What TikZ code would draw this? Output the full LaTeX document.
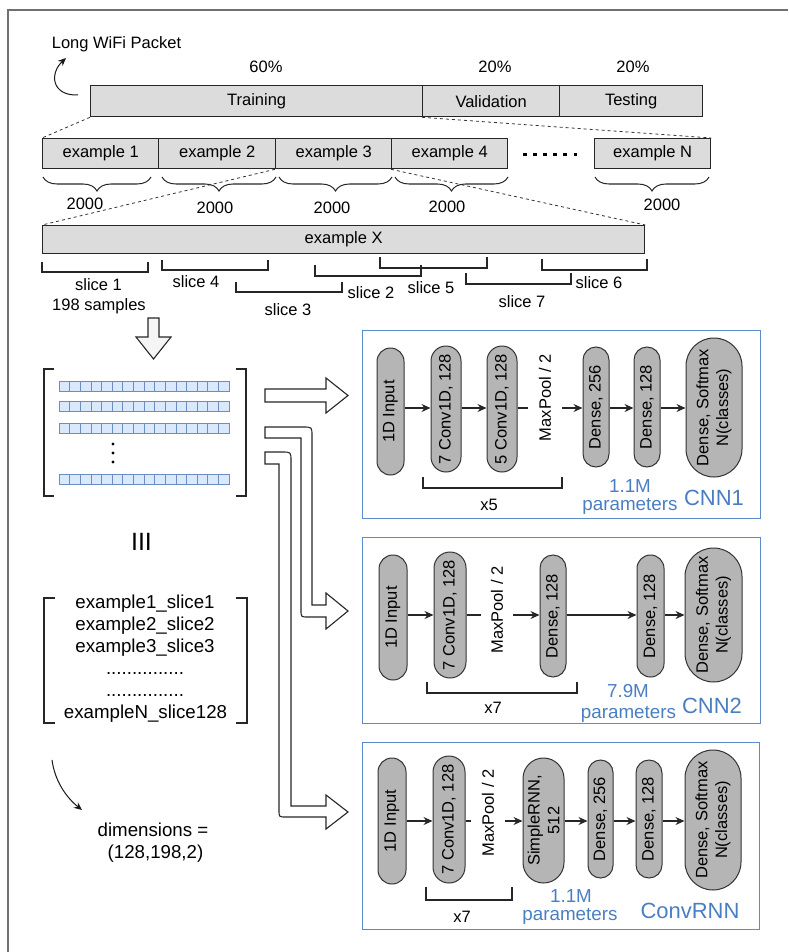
\documentclass[tikz,border=0pt]{standalone}
\usepackage{fontspec}
\setmainfont{Liberation Sans}
\usetikzlibrary{arrows.meta,decorations.pathreplacing}
\definecolor{boxgray}{HTML}{DCDCDC}
\definecolor{pillgray}{HTML}{B5B5B5}
\definecolor{cellblue}{HTML}{DAE8FC}
\definecolor{cellline}{HTML}{6C8EBF}
\definecolor{netblue}{HTML}{5B8BCB}
\definecolor{labblue}{HTML}{4A7EC2}
\definecolor{framegray}{HTML}{707070}
\begin{document}
\begin{tikzpicture}[x=1pt,y=-1pt,
  basefont/.style={font=\fontsize{16.5}{19.8}\selectfont},
  txt/.style={basefont, inner sep=0pt, anchor=base},
  lst/.style={font=\fontsize{18.7}{22}\selectfont, inner sep=0pt, anchor=base},
  bl/.style={font=\fontsize{18.8}{22}\selectfont, text=labblue, inner sep=0pt, anchor=base},
  bigbl/.style={font=\fontsize{22}{26}\selectfont, text=labblue, inner sep=0pt, anchor=base},
  seg/.style={draw=black!85, line width=1.3pt, fill=boxgray, basefont, inner sep=0pt, anchor=north west},
  pill/.style n args={3}{draw=black!80, line width=1pt, fill=pillgray, rotate=90, inner sep=0pt,
     align=center, basefont, minimum width=#1, minimum height=#2, rounded corners=#3},
  mpn/.style={rotate=90, inner sep=0pt, basefont, minimum height=#1},
  netbox/.style={draw=netblue, line width=1.3pt, inner sep=0pt, anchor=north west},
  arr/.style={-{Stealth[length=9pt,width=8pt]}, line width=1.2pt, black!85},
  ln/.style={line width=1.2pt, black!85},
  carr/.style={-{Stealth[length=8pt,width=7pt]}, line width=1pt, black!90},
  dsh/.style={black!80, line width=0.8pt, dash pattern=on 3pt off 3pt},
  brc/.style={decorate, decoration={brace,mirror,amplitude=14pt}, line width=1pt, black!85},
  sl/.style={line width=1.1pt, black!85},
  blk/.style={draw=black!85, line width=1.1pt, fill=white, line join=miter},
  cell/.style={fill=cellblue, draw=cellline, line width=0.7pt}
]
\useasboundingbox (0,0) rectangle (788,952);
% frame
\draw[framegray, line width=1.2pt] (8,952) -- (8,10) -- (788,10);

% top packet
\node[txt] (lwp) at (116.5,48.5) {Long WiFi Packet};
\coordinate (lwpstart) at (78,95);
\coordinate (lwpend) at (66,58);
\draw[carr] (lwpstart) .. controls (52,96) and (49,74) .. (lwpend);
\node[txt] (pct1) at (266,73) {60\%};
\node[txt] (pct2) at (495,73) {20\%};
\node[txt] (pct3) at (633,73) {20\%};
\node[seg, minimum width=332pt, minimum height=31pt] (tr) at (90,85) {Training};
\node[seg, minimum width=137pt, minimum height=31pt] (va) at (422,85) {Validation};
\node[seg, minimum width=143pt, minimum height=31pt] (te) at (559,85) {Testing};

% examples
\node[seg, minimum width=116pt, minimum height=30pt] (e1) at (42,138) {example 1};
\node[seg, minimum width=117pt, minimum height=30pt] (e2) at (158,138) {example 2};
\node[seg, minimum width=116pt, minimum height=30pt] (e3) at (275,138) {example 3};
\node[seg, minimum width=116pt, minimum height=30pt] (e4) at (391,138) {example 4};
\node[seg, minimum width=116pt, minimum height=30pt] (eN) at (594,138) {example N};
\coordinate (dotsA) at (523,154.5);
\coordinate (dotsB) at (578,154.5);
\draw[line width=3.6pt, dash pattern=on 3.6pt off 6.5pt] (dotsA) -- (dotsB);
\draw[dsh] (tr.south west) -- (e1.north west);
\draw[dsh] (va.south west) -- (eN.north east);

% braces
\draw[brc] (43,177) -- (151,177);
\draw[brc] (162,177) -- (276,177);
\draw[brc] (279,177) -- (392,177);
\draw[brc] (395,177) -- (508,177);
\draw[brc] (595,177) -- (709,177);
\node[txt] (n1) at (85,209) {2000};
\node[txt] (n2) at (215,213) {2000};
\node[txt] (n3) at (332,213) {2000};
\node[txt] (n4) at (447,212) {2000};
\node[txt] (nN) at (662,210) {2000};

% example X
\node[seg, minimum width=602pt, minimum height=28pt] (eX) at (42,225) {example X};
\draw[dsh] (e3.south west) -- (eX.north west);
\draw[dsh] (e4.south west) -- (eX.north east);

% slices
\draw[sl] (42,262) -- (42,272) -- (148,272) -- (148,262);
\draw[sl] (162,260) -- (162,270) -- (268,270) -- (268,260);
\draw[sl] (236,282) -- (236,292) -- (342,292) -- (342,282);
\draw[sl] (315,265) -- (315,276) -- (421,276) -- (421,265);
\draw[sl] (380,257) -- (380,268) -- (487,268) -- (487,257);
\draw[sl] (466,273) -- (466,284) -- (571,284) -- (571,273);
\draw[sl] (542,259) -- (542,270) -- (647,270) -- (647,259);
\node[txt] (s1) at (98.5,290) {slice 1};
\node[txt] (s1b) at (99,310) {198 samples};
\node[txt] (s4) at (196,287) {slice 4};
\node[txt] (s3) at (288,315) {slice 3};
\node[txt] (s2) at (371,298) {slice 2};
\node[txt] (s5) at (431,293) {slice 5};
\node[txt] (s7) at (522,307) {slice 7};
\node[txt] (s6) at (599,288) {slice 6};

% down arrow
\draw[blk, fill={rgb,255:red,245;green,245;blue,245}] (148,318) -- (159,318) -- (159,337) -- (171,337) -- (153.5,359) -- (136,337) -- (148,337) -- cycle;

% matrix
\draw[sl] (54,369) -- (44,369) -- (44,496) -- (54,496);
\draw[sl] (236,369) -- (246,369) -- (246,496) -- (236,496);
\foreach \r in {381,401,423,474} {
  \foreach \i in {0,...,15} {
    \draw[cell] ({59+\i*10.625},\r) rectangle ++(10.625,10.5);
  }
}
\fill (113,444) circle (1.7pt);
\fill (113,453) circle (1.7pt);
\fill (113,462) circle (1.7pt);

% block arrows
\draw[blk] (265,389) -- (326,389) -- (326,378) -- (348,395.5) -- (326,413) -- (326,402) -- (265,402) -- cycle;
\draw[blk] (265,427) -- (303,427) .. controls (312,427) .. (312,436) -- (312,605) -- (326,605) -- (326,593) -- (348,611) -- (326,629) -- (326,617) -- (308,617) .. controls (301,617) .. (301,610) -- (301,438) -- (265,438) -- cycle;
\draw[blk] (265,452) -- (282,452) .. controls (291,452) .. (291,461) -- (291,806) -- (326,806) -- (326,795) -- (348,812) -- (326,829) -- (326,817) -- (286,817) .. controls (279,817) .. (279,810) -- (279,464) -- (265,464) -- cycle;

% equivalence and list
\node[font=\fontsize{25}{25}\selectfont, inner sep=0pt, anchor=base] (eqv) at (141.5,550) {III};
\draw[sl] (55,598) -- (44,598) -- (44,723) -- (55,723);
\draw[sl] (236,598) -- (247,598) -- (247,723) -- (236,723);
\node[lst] (li1) at (145,608) {example1\_slice1};
\node[lst] (li2) at (145,630) {example2\_slice2};
\node[lst] (li3) at (145,652) {example3\_slice3};
\node[lst] (li4) at (145,674) {...............};
\node[lst] (li5) at (145,696) {...............};
\node[lst] (li6) at (145.5,718) {exampleN\_slice128};
\coordinate (dimstart) at (52,760);
\coordinate (dimend) at (82,810);
\draw[carr] (dimstart) .. controls (55,782) and (67,798) .. (dimend);
\node[lst] (dim1) at (153,836) {dimensions =};
\node[lst] (dim2) at (155.5,858) {(128,198,2)};

% ---------- CNN1 ----------
\node[netbox, minimum width=398pt, minimum height=188pt] (box1) at (362,330) {};
\coordinate (r1) at (0,408);
\node[pill={127pt}{27pt}{13.5pt}] (in1) at (390.5,411.5) {1D Input};
\node[pill={126pt}{30pt}{15pt}] (c1a) at (446,409) {7 Conv1D, 128};
\node[pill={126pt}{30pt}{15pt}] (c1b) at (502,409) {5 Conv1D, 128};
\node[mpn=34pt] (mp1) at (545,397.5) {MaxPool / 2};
\node[pill={120pt}{26pt}{13pt}] (d1a) at (596,407) {Dense, 256};
\node[pill={120pt}{26pt}{13pt}] (d1b) at (647,407) {Dense, 128};
\node[pill={139pt}{56pt}{28pt}] (sm1) at (714,407.5) {Dense, Softmax\\N(classes)};
\draw[arr] (in1.south |- r1) -- (c1a.north |- r1);
\draw[arr] (c1a.south |- r1) -- (c1b.north |- r1);
\draw[ln] (c1b.south |- r1) -- (mp1.north |- r1);
\draw[arr] (mp1.south |- r1) -- (d1a.north |- r1);
\draw[arr] (d1a.south |- r1) -- (d1b.north |- r1);
\draw[arr] (d1b.south |- r1) -- (sm1.north |- r1);
\draw[sl] (423,477) -- (423,488) -- (562,488) -- (562,477);
\node[txt] (x5) at (489,510) {x5};
\node[bl] (p1a) at (630,492) {1.1M};
\node[bl] (p1b) at (630,510) {parameters};
\node[bigbl] (cnn1) at (714,505) {CNN1};

% ---------- CNN2 ----------
\node[netbox, minimum width=398pt, minimum height=186pt] (box2) at (362,537) {};
\coordinate (r2) at (0,615);
\node[pill={125pt}{28pt}{14pt}] (in2) at (393,617.5) {1D Input};
\node[pill={126pt}{32pt}{16pt}] (c2a) at (450,615) {7 Conv1D, 128};
\node[mpn=32pt] (mp2) at (497,610) {MaxPool / 2};
\node[pill={122pt}{26pt}{13pt}] (d2a) at (553,616) {Dense, 128};
\node[pill={122pt}{27pt}{13.5pt}] (d2b) at (650.5,616) {Dense, 128};
\node[pill={134pt}{57pt}{28.5pt}] (sm2) at (713.5,615) {Dense, Softmax\\N(classes)};
\draw[arr] (in2.south |- r2) -- (c2a.north |- r2);
\draw[ln] (c2a.south |- r2) -- (mp2.north |- r2);
\draw[arr] (mp2.south |- r2) -- (d2a.north |- r2);
\draw[arr] (d2a.south |- r2) -- (d2b.north |- r2);
\draw[arr] (d2b.south |- r2) -- (sm2.north |- r2);
\draw[sl] (427,682) -- (427,693) -- (577,693) -- (577,682);
\node[txt] (x7a) at (493,713) {x7};
\node[bl] (p2a) at (628,697) {7.9M};
\node[bl] (p2b) at (628.5,718) {parameters};
\node[bigbl] (cnn2) at (712,713) {CNN2};

% ---------- ConvRNN ----------
\node[netbox, minimum width=397pt, minimum height=187pt] (box3) at (362,742) {};
\coordinate (r3) at (0,821);
\node[pill={126pt}{28pt}{14pt}] (in3) at (392,821) {1D Input};
\node[pill={127pt}{32pt}{16pt}] (c3a) at (449,819.5) {7 Conv1D, 128};
\node[mpn=34pt] (mp3) at (488,813) {MaxPool / 2};
\node[pill={125pt}{41pt}{20.5pt}] (rn3) at (543.5,820.5) {SimpleRNN,\\512};
\node[pill={118pt}{25pt}{12.5pt}] (d3a) at (600.5,819) {Dense, 256};
\node[pill={118pt}{26pt}{13pt}] (d3b) at (649,819) {Dense, 128};
\node[pill={140pt}{56pt}{28pt}] (sm3) at (713,820) {Dense, Softmax\\N(classes)};
\draw[arr] (in3.south |- r3) -- (c3a.north |- r3);
\draw[ln] (c3a.south |- r3) -- (mp3.north |- r3);
\draw[arr] (mp3.south |- r3) -- (rn3.north |- r3);
\draw[arr] (rn3.south |- r3) -- (d3a.north |- r3);
\draw[arr] (d3a.south |- r3) -- (d3b.north |- r3);
\draw[arr] (d3b.south |- r3) -- (sm3.north |- r3);
\draw[sl] (426,887) -- (426,900) -- (512,900) -- (512,887);
\node[txt] (x7b) at (462,922) {x7};
\node[bl] (p3a) at (571,902) {1.1M};
\node[bl] (p3b) at (570,920) {parameters};
\node[bigbl] (crnn) at (690,918) {ConvRNN};
\end{tikzpicture}
\end{document}
